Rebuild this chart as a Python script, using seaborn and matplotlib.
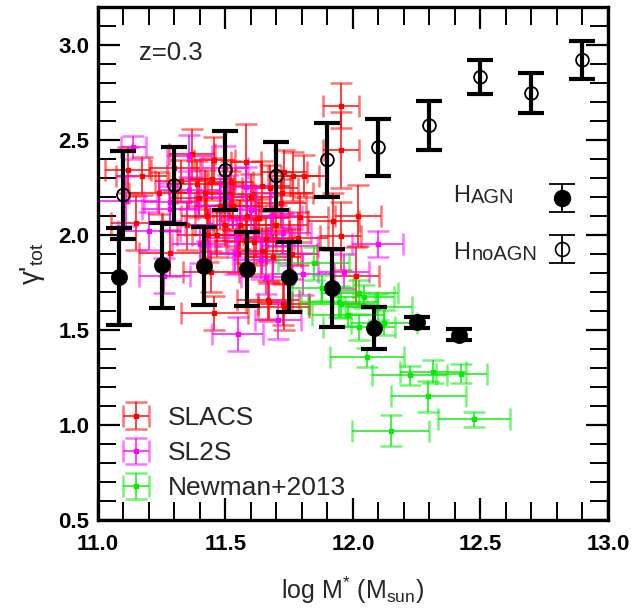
import numpy as np
import pandas as pd
import matplotlib
matplotlib.use("Agg")
import matplotlib.pyplot as plt
import seaborn as sns
from matplotlib.lines import Line2D
from matplotlib.collections import LineCollection
from matplotlib.legend_handler import HandlerTuple
from matplotlib.ticker import MultipleLocator

# ---------------- data ----------------
# simulations (H_AGN filled, H_noAGN open)
agn_x = [11.083, 11.25, 11.417, 11.583, 11.75, 11.917, 12.083, 12.25, 12.417]
agn_y = [1.78, 1.84, 1.835, 1.82, 1.78, 1.72, 1.51, 1.54, 1.475]
agn_err = [0.255, 0.225, 0.205, 0.195, 0.185, 0.205, 0.11, 0.03, 0.03]

noagn_x = [11.1, 11.3, 11.5, 11.7, 11.9, 12.1, 12.3, 12.5, 12.7, 12.9]
noagn_y = [2.21, 2.26, 2.34, 2.31, 2.395, 2.46, 2.575, 2.83, 2.745, 2.92]
noagn_err = [0.23, 0.205, 0.207, 0.178, 0.193, 0.15, 0.128, 0.09, 0.105, 0.10]

# SLACS
slacs_x = [11.117, 11.171, 11.150, 11.283, 11.325, 11.368, 11.387, 11.398, 11.427, 11.447,
           11.457, 11.432, 11.467, 11.444, 11.457, 11.580, 11.531, 11.557, 11.585, 11.612,
           11.631, 11.644, 11.670, 11.673, 11.716, 11.723, 11.729, 11.765, 11.807, 11.728,
           11.794, 11.784, 11.922, 11.952, 11.952, 11.952, 12.020, 12.013, 11.686, 11.726,
           11.667, 11.516, 11.644, 11.50, 11.60, 11.55, 11.62, 11.48, 11.70, 11.66,
           11.35, 11.58, 11.52, 11.42, 11.76, 11.24, 11.30]
slacs_y = [2.341, 2.311, 2.063, 1.905, 2.283, 2.428, 2.270, 2.193, 2.100, 2.295,
           2.393, 1.998, 2.002, 1.807, 1.588, 2.384, 2.153, 2.054, 2.101, 1.963,
           2.091, 1.915, 1.645, 2.247, 2.167, 2.220, 2.329, 2.309, 2.309, 1.622,
           2.093, 1.983, 2.072, 2.681, 2.447, 1.993, 2.102, 1.786, 1.883, 1.637,
           1.659, 2.216, 2.260, 2.05, 2.20, 1.90, 2.02, 2.15, 2.05, 1.98,
           2.05, 1.97, 2.28, 2.22, 1.90, 2.22, 2.35]
slacs_xerr = [0.09, 0.10, 0.10, 0.12, 0.10, 0.09, 0.11, 0.12, 0.10, 0.09,
              0.08, 0.12, 0.10, 0.11, 0.13, 0.06, 0.11, 0.12, 0.10, 0.11,
              0.12, 0.10, 0.09, 0.11, 0.10, 0.12, 0.09, 0.10, 0.09, 0.10,
              0.11, 0.12, 0.10, 0.07, 0.07, 0.08, 0.09, 0.09, 0.11, 0.10,
              0.12, 0.10, 0.11, 0.12, 0.10, 0.11, 0.13, 0.10, 0.12, 0.11,
              0.10, 0.12, 0.09, 0.11, 0.10, 0.12, 0.10]
slacs_yerr = [0.12, 0.10, 0.14, 0.12, 0.11, 0.13, 0.12, 0.10, 0.13, 0.11,
              0.12, 0.14, 0.12, 0.11, 0.09, 0.20, 0.12, 0.13, 0.11, 0.12,
              0.10, 0.12, 0.10, 0.12, 0.13, 0.11, 0.12, 0.13, 0.11, 0.12,
              0.13, 0.14, 0.15, 0.12, 0.20, 0.18, 0.16, 0.15, 0.12, 0.11,
              0.10, 0.12, 0.13, 0.11, 0.12, 0.10, 0.13, 0.12, 0.11, 0.12,
              0.13, 0.12, 0.11, 0.12, 0.13, 0.11, 0.12]

# SL2S
sl2s_x = [11.139, 11.111, 11.281, 11.281, 11.359, 11.359, 11.261, 11.510, 11.545, 11.536,
          11.548, 11.752, 11.804, 11.964, 11.707, 11.725, 12.098, 11.60, 11.64, 11.44,
          11.68, 11.40, 11.58, 11.50, 11.20, 11.66]
sl2s_y = [2.461, 2.178, 2.175, 2.139, 2.414, 2.235, 1.786, 2.198, 1.983, 1.905,
          1.480, 1.944, 1.795, 1.807, 1.553, 2.008, 1.953, 2.13, 1.87, 2.05,
          2.10, 1.95, 2.25, 2.35, 2.02, 1.78]
sl2s_xerr = [0.05, 0.12, 0.10, 0.11, 0.09, 0.12, 0.10, 0.11, 0.12, 0.10,
             0.10, 0.11, 0.12, 0.10, 0.09, 0.11, 0.10, 0.12, 0.11, 0.10,
             0.12, 0.11, 0.10, 0.09, 0.12, 0.10]
sl2s_yerr = [0.06, 0.13, 0.10, 0.12, 0.11, 0.10, 0.09, 0.12, 0.10, 0.11,
             0.09, 0.10, 0.11, 0.09, 0.10, 0.11, 0.07, 0.12, 0.10, 0.11,
             0.12, 0.10, 0.11, 0.12, 0.10, 0.09]

# Newman+2013
newman_x = [11.846, 12.025, 12.042, 11.945, 11.955, 12.023, 12.122, 12.055, 12.223, 12.315,
            12.425, 12.295, 12.475, 12.148, 11.88, 11.98, 12.10]
newman_y = [1.850, 1.695, 1.675, 1.649, 1.635, 1.515, 1.537, 1.355, 1.260, 1.280,
            1.270, 1.150, 1.030, 0.970, 1.72, 1.58, 1.62]
newman_xerr = [0.14, 0.15, 0.12, 0.15, 0.13, 0.14, 0.13, 0.146, 0.147, 0.13,
               0.10, 0.147, 0.14, 0.15, 0.12, 0.14, 0.13]
newman_yerr = [0.085, 0.07, 0.06, 0.08, 0.07, 0.07, 0.066, 0.05, 0.05, 0.06,
               0.05, 0.08, 0.04, 0.08, 0.07, 0.06, 0.07]

# ---------------- style ----------------
sns.set_theme(style="white")
plt.rcParams["font.family"] = ["Liberation Sans", "DejaVu Sans"]
plt.rcParams["mathtext.fontset"] = "custom"
plt.rcParams["mathtext.rm"] = "Liberation Sans"
plt.rcParams["mathtext.it"] = "Liberation Sans:italic"
plt.rcParams["mathtext.bf"] = "Liberation Sans:bold"

fig = plt.figure(figsize=(6.4, 6.08), dpi=100)
ax = fig.add_axes([0.153, 0.145, 0.797, 0.8435])
ax.set_xlim(11.0, 13.0)
ax.set_ylim(0.5, 3.2)

obs = [
    ("SLACS", slacs_x, slacs_y, slacs_xerr, slacs_yerr, "#ff0000"),
    ("SL2S", sl2s_x, sl2s_y, sl2s_xerr, sl2s_yerr, "#ff00ff"),
    ("Newman+2013", newman_x, newman_y, newman_xerr, newman_yerr, "#00ee00"),
]
obs_handles = []
for name, x, y, xe, ye, c in obs:
    eb = ax.errorbar(x, y, xerr=xe, yerr=ye, fmt="s", ms=3.5, color=c, ecolor=c,
                     elinewidth=1.3, capsize=8, capthick=1.8, label=name, zorder=2)
    for cap in eb[1]:
        cap.set_alpha(0.55)
    for bl in eb[2]:
        bl.set_alpha(0.8)
    obs_handles.append(eb)

# simulations
eb_agn = ax.errorbar(agn_x, agn_y, yerr=agn_err, fmt="none", ecolor="black",
                     elinewidth=3.0, capsize=9.5, capthick=3.0, zorder=4)
eb_noagn = ax.errorbar(noagn_x, noagn_y, yerr=noagn_err, fmt="none", ecolor="black",
                       elinewidth=3.0, capsize=9.5, capthick=3.0, zorder=4)
df_agn = pd.DataFrame({"x": agn_x, "y": agn_y})
df_noagn = pd.DataFrame({"x": noagn_x, "y": noagn_y})
sns.scatterplot(data=df_agn, x="x", y="y", ax=ax, marker="o", s=135,
                color="black", edgecolor="black", linewidth=0.5, zorder=5)
sns.scatterplot(data=df_noagn, x="x", y="y", ax=ax, marker="o", s=85,
                fc="none", ec="black", linewidth=1.3, zorder=5)

# ---------------- axes ----------------
for sp in ax.spines.values():
    sp.set_linewidth(2.4)
    sp.set_color("black")
ax.xaxis.set_major_locator(MultipleLocator(0.5))
ax.xaxis.set_minor_locator(MultipleLocator(0.1))
ax.yaxis.set_major_locator(MultipleLocator(0.5))
ax.yaxis.set_minor_locator(MultipleLocator(0.1))
ax.tick_params(which="both", direction="in", top=True, right=True,
               bottom=True, left=True, colors="black")
ax.tick_params(which="major", length=16, width=1.6, labelsize=16, pad=10)
ax.tick_params(which="minor", length=13, width=1.4)
ax.set_xticks([11.0, 11.5, 12.0, 12.5, 13.0])
ax.set_xticklabels(["11.0", "11.5", "12.0", "12.5", "13.0"], fontweight="bold")
ax.set_yticks([0.5, 1.0, 1.5, 2.0, 2.5, 3.0])
ax.set_yticklabels(["0.5", "1.0", "1.5", "2.0", "2.5", "3.0"], fontweight="bold")
ax.tick_params(axis="y", which="major", pad=6)
ax.grid(False)

ax.set_xlabel(r"log M$^{*}$ (M$_{\mathrm{sun}}$)", fontsize=18, labelpad=14)
ax.set_ylabel(r"γ'$_{\mathrm{tot}}$", fontsize=20, labelpad=8)

ax.text(0.08, 0.91, "z=0.3", transform=ax.transAxes, fontsize=18.5,
        ha="left", va="center")

# legend for observations
leg1 = ax.legend(handles=obs_handles, labels=[h.get_label() for h in obs_handles],
                 loc="lower left", bbox_to_anchor=(0.0, 0.0), frameon=False,
                 fontsize=19, handlelength=1.4, labelspacing=0.42, handletextpad=0.5,
                 borderaxespad=0.35)
ax.add_artist(leg1)

# legend for simulations (symbols only; labels drawn as text)
m_agn = Line2D([], [], marker="o", ls="none", ms=11.5, mfc="black", mec="black")
m_noagn = Line2D([], [], marker="o", ls="none", ms=10, mfc="none", mec="black", mew=1.2)
leg2 = ax.legend(handles=[(eb_agn, m_agn), (eb_noagn, m_noagn)],
                 labels=["", ""],
                 handler_map={tuple: HandlerTuple(ndivide=1)},
                 loc="upper right", bbox_to_anchor=(0.954, 0.67), frameon=False,
                 fontsize=20, markerfirst=False, handlelength=0.85, labelspacing=0.9,
                 handletextpad=0.0, borderaxespad=0.0)
for obj in leg2.findobj():
    if isinstance(obj, LineCollection):
        obj.set_linewidth(1.3)
    elif isinstance(obj, Line2D) and obj.get_marker() in ("_", "|"):
        obj.set_markeredgewidth(1.3)

sim_labels = [("H", "AGN", 0.620), ("H", "noAGN", 0.509)]
for main, sub, yb in sim_labels:
    t = ax.text(0.696, yb, main, transform=ax.transAxes, fontsize=17,
                ha="left", va="baseline")
    ax.annotate(sub, xy=(1.0, 0.0), xycoords=t, xytext=(1.0, 2.5),
                textcoords="offset points", fontsize=14.5, ha="left", va="baseline")

fig.savefig("out.png", dpi=100)
